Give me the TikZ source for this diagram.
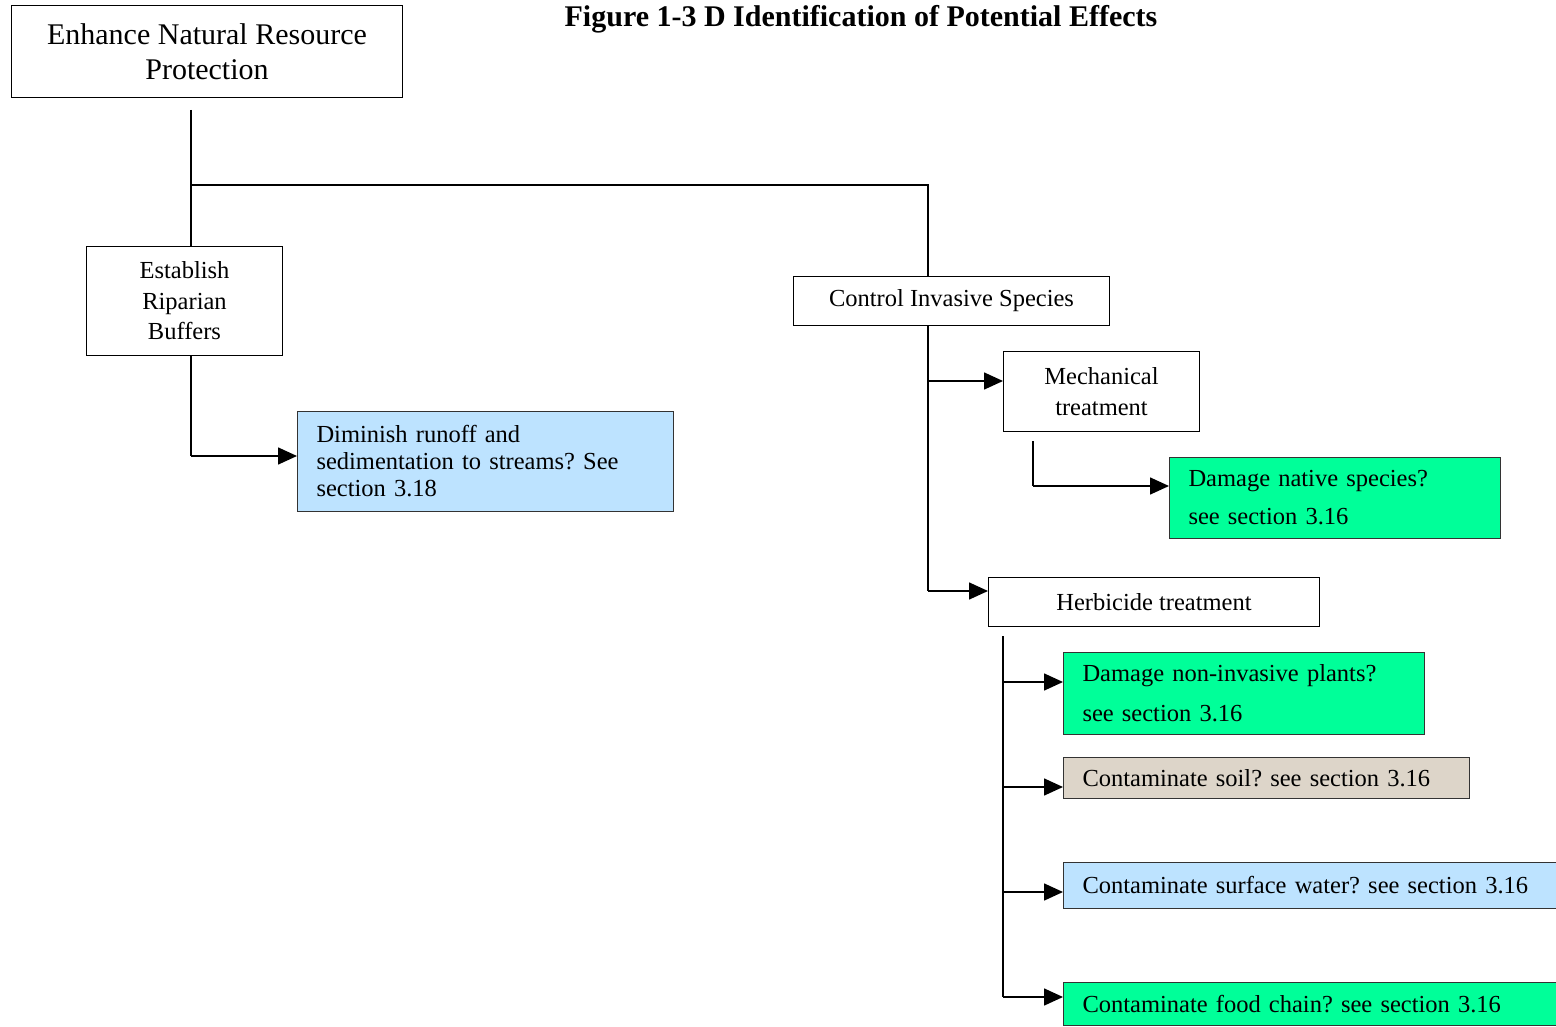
\documentclass[tikz,border=0pt]{standalone}
\usepackage{fontspec}
\setmainfont{Liberation Serif}
\usetikzlibrary{arrows.meta,calc}
\definecolor{lblue}{HTML}{BDE3FF}
\definecolor{lgreen}{HTML}{00FF99}
\definecolor{soilc}{HTML}{DDD5C9}
\frenchspacing
\begin{document}
\begin{tikzpicture}[x=1pt,y=-1pt,
  box/.style={draw, line width=1pt, inner sep=0pt, anchor=north west, align=center, font=\fontsize{24.5}{30.5}\selectfont},
  lbox/.style={draw=black!80, line width=1pt, inner ysep=0pt, inner xsep=19pt, anchor=north west, align=left},
  conn/.style={line width=1.6pt},
  arr/.style={line width=1.6pt, -{Triangle[length=19pt,width=17pt]}}]
\useasboundingbox (0,0) rectangle (1556,1027);
\fill[white] (0,0) rectangle (1556,1027);
% title
\node[font=\fontsize{30}{36}\selectfont\bfseries] (title) at (861,19) {Figure 1-3 D Identification of Potential Effects};
% boxes
\node[box, minimum width=391pt, minimum height=92pt, font=\fontsize{30}{35}\selectfont] (top) at (11,5) {Enhance Natural Resource\\Protection};
\node[box, minimum width=196pt, minimum height=109pt] (est) at (86,246) {Establish\\Riparian\\Buffers};
\node[lbox, fill=lblue, minimum height=100pt, text width=338pt, font=\fontsize{24.5}{27}\selectfont] (blue1) at (297,411) {Diminish runoff and\\sedimentation to streams? See\\section 3.18};
\node[box, minimum width=316pt, minimum height=49pt] (ctl) at (793,276) {Control Invasive Species};
\node[box, minimum width=196pt, minimum height=80pt] (mech) at (1003,351) {Mechanical\\treatment};
\node[lbox, fill=lgreen, minimum height=81pt, text width=293pt, font=\fontsize{24.5}{38}\selectfont] (green1) at (1169,457) {Damage native species?\\see section 3.16};
\node[box, minimum width=331pt, minimum height=49pt] (herb) at (988,577) {Herbicide treatment};
\node[lbox, fill=lgreen, minimum height=82pt, text width=323pt, font=\fontsize{24.5}{40}\selectfont] (green2) at (1063,652) {Damage non-invasive plants?\\see section 3.16};
\node[lbox, fill=soilc, minimum height=41pt, text width=368pt, font=\fontsize{24.5}{30}\selectfont] (soil) at (1063,757) {Contaminate soil? see section 3.16};
\node[lbox, fill=lblue, minimum height=46pt, text width=462pt, font=\fontsize{24.5}{30}\selectfont] (water) at (1063,862) {Contaminate surface water? see section 3.16};
\node[lbox, fill=lgreen, minimum height=43pt, text width=462pt, font=\fontsize{24.5}{30}\selectfont] (food) at (1063,982) {Contaminate food chain? see section 3.16};
% junction coordinates
\coordinate (j1) at (191,185);
\coordinate (j2) at (928,185);
\coordinate (s0) at (191,110);
\coordinate (b1) at (191,456);
\coordinate (m1) at (928,381);
\coordinate (h1) at (928,591);
\coordinate (g0) at (1033,441);
\coordinate (g1) at (1033,486);
\coordinate (k0) at (1003,636);
\coordinate (a1) at (1003,682);
\coordinate (a2) at (1003,787);
\coordinate (a3) at (1003,892);
\coordinate (a4) at (1003,997);
% connectors
\draw[conn] (s0) -- (est.north -| s0);
\draw[conn] (j1) -- (j2) -- (ctl.north -| j2);
\draw[conn] (est.south -| b1) -- (b1);
\draw[arr] (b1) -- (b1 -| blue1.west);
\draw[conn] (ctl.south -| m1) -- (h1);
\draw[arr] (m1) -- (m1 -| mech.west);
\draw[arr] (h1) -- (h1 -| herb.west);
\draw[conn] (g0) -- (g1);
\draw[arr] (g1) -- (g1 -| green1.west);
\draw[conn] (k0) -- (a4);
\draw[arr] (a1) -- (a1 -| green2.west);
\draw[arr] (a2) -- (a2 -| soil.west);
\draw[arr] (a3) -- (a3 -| water.west);
\draw[arr] (a4) -- (a4 -| food.west);
\end{tikzpicture}
\end{document}
